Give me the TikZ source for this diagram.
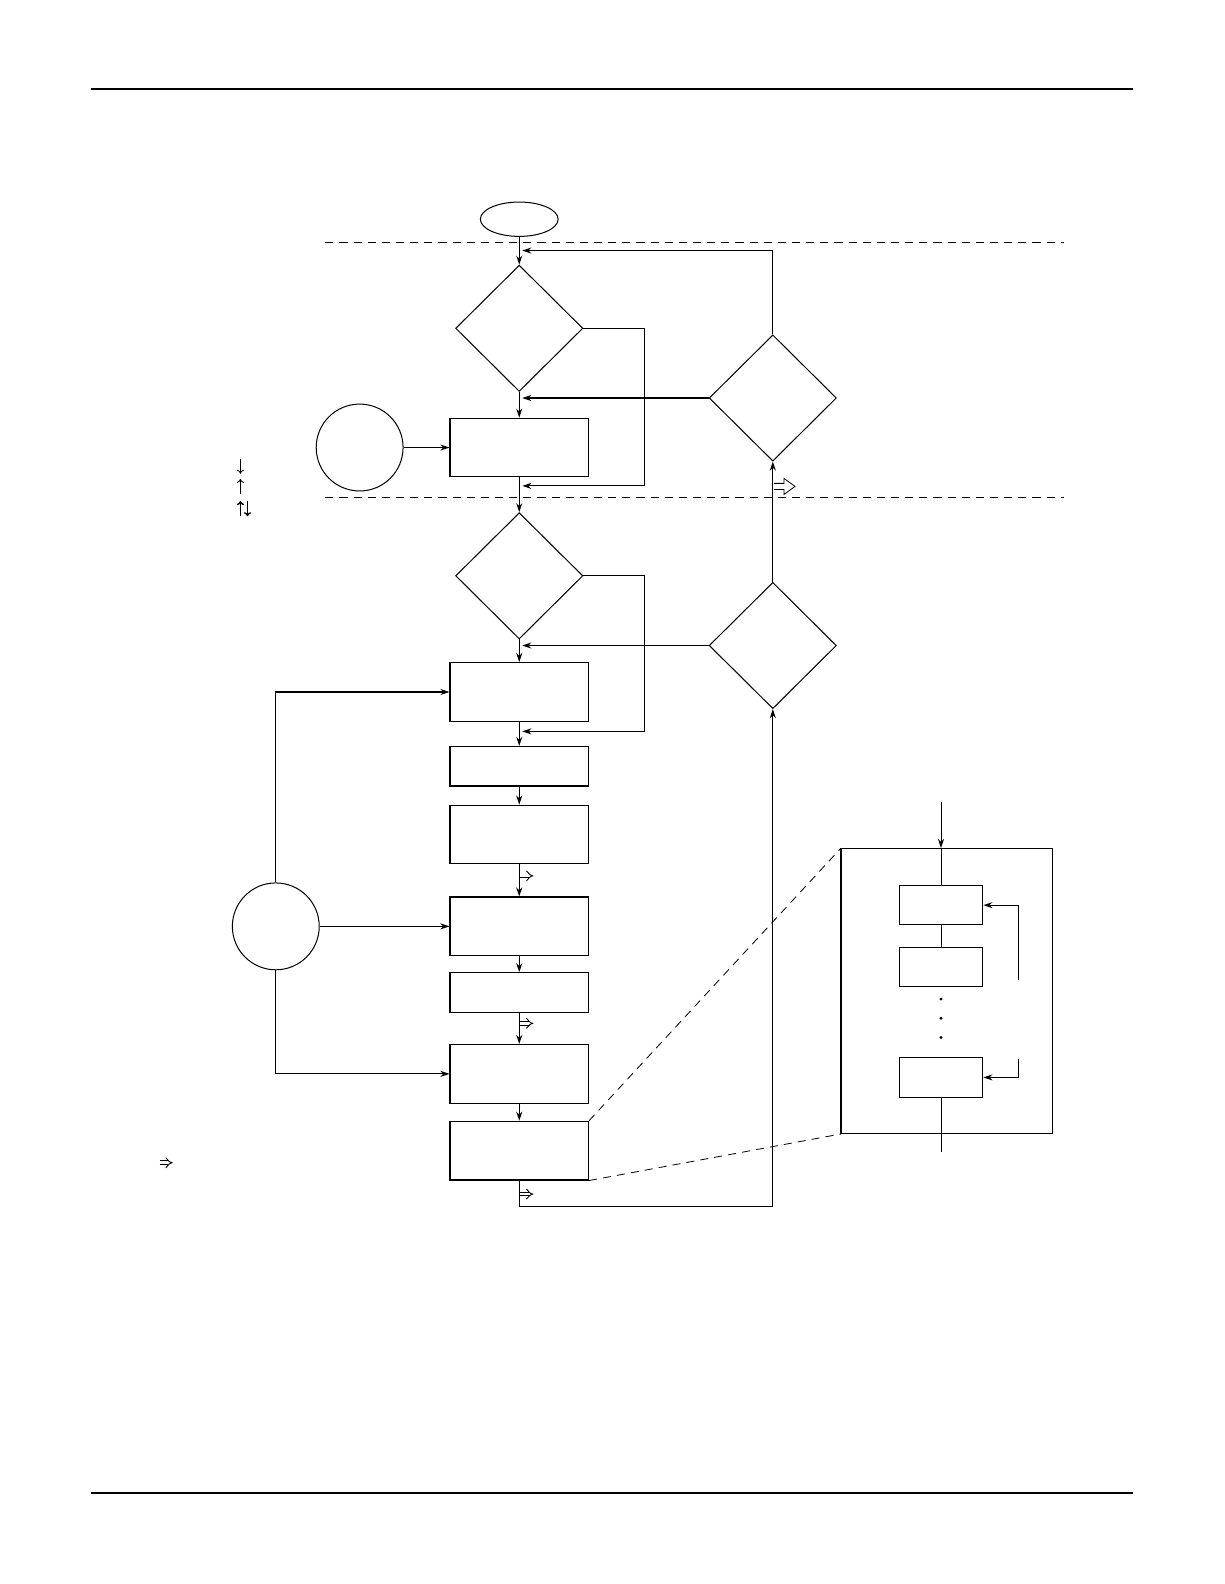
\documentclass[tikz,border=0pt]{standalone}
\usetikzlibrary{shapes.geometric,arrows.meta,calc}
\begin{document}
\begin{tikzpicture}[x=1pt,y=-1pt,
  box/.style={draw, line width=1.2pt, minimum width=137pt, minimum height=58pt, inner sep=0pt},
  sbox/.style={box, minimum height=39pt},
  ibox/.style={draw, line width=0.9pt, minimum width=83pt, minimum height=39pt, inner sep=0pt},
  dia/.style={draw, diamond, line width=1pt, minimum width=126pt, minimum height=125pt, inner sep=0pt},
  circ/.style={draw, circle, line width=1pt, minimum size=86pt, inner sep=0pt},
  arr/.style={-{Stealth[length=9pt,width=6pt]}, line width=1pt},
  ln/.style={line width=1pt},
  dsh/.style={line width=0.8pt, dash pattern=on 8pt off 6pt},
  dbl/.style={double, double distance=2.8pt, line width=0.9pt, -{Implies}},
  larr/.style={line width=0.8pt, -{To[length=4pt,width=7pt]}},
  larrb/.style={line width=1.4pt, -{To[length=4pt,width=7pt]}}
]
\useasboundingbox (0,0) rectangle (1212,1568);
% rules
\draw[line width=1.4pt] (90,88) -- (1122,88);
\draw[line width=1.4pt] (90,1478) -- (1122,1478);
% dashed separators
\draw[dsh] (322,240) -- (1053,240);
\draw[dsh] (322,492) -- (1053,492);

% nodes
\node[draw, ellipse, line width=1pt, minimum width=77pt, minimum height=34pt, inner sep=0pt] (start) at (514,217) {};
\node[dia] (d1) at (514,325) {};
\node[box] (b1) at (514,443) {};
\node[circ] (c1) at (356,443) {};
\node[dia] (d2) at (514,570) {};
\node[box] (b2) at (514,685) {};
\node[sbox] (b3) at (514,758.5) {};
\node[box] (b4) at (514,826) {};
\node[box] (b5) at (514,917) {};
\node[sbox] (b6) at (514,982.5) {};
\node[box] (b7) at (514,1063) {};
\node[box] (b8) at (514,1139) {};
\node[dia] (dr1) at (765,394) {};
\node[dia] (dr2) at (765,639) {};
\node[circ] (c2) at (273,917) {};

% helper coordinates
\coordinate (j1) at (517,248);
\coordinate (k1) at (638,481);
\coordinate (j2) at (517,481);
\coordinate (k2) at (638,724);
\coordinate (j4) at (517,724);
\coordinate (jx) at (517,0);
\coordinate (m1) at (514,1194);
\coordinate (m2) at (765,1194);

% main chain
\draw[arr] (start) -- (d1);
\draw[arr] (d1) -- (b1);
\draw[arr] (c1) -- (b1);
\draw[arr] (b1) -- (d2);
\draw[arr] (d2) -- (b2);
\draw[arr] (b2) -- (b3);
\draw[arr] (b3) -- (b4);
\draw[arr] (b4) -- (b5);
\draw[arr] (b5) -- (b6);
\draw[arr] (b6) -- (b7);
\draw[arr] (b7) -- (b8);

% bypasses
\draw[ln] (d1.east) -| (k1);
\draw[arr] (k1) -- (j2);
\draw[ln] (d2.east) -| (k2);
\draw[arr] (k2) -- (j4);

% right-hand decisions
\draw[arr, line width=1.3pt] (dr1.west) -- (dr1.west -| jx);
\draw[arr] (dr1.north) |- (j1);
\draw[arr] (dr2.west) -- (dr2.west -| jx);
\draw[arr] (dr2) -- (dr1);
\draw[ln] (b8.south) -- (m1) -- (m2);
\draw[arr] (m2) -- (dr2.south);

% circle 2 feeds
\draw[arr] (c2.north) |- (b2.west);
\draw[arr, line width=1.3pt] (c2) -- (b5);
\draw[arr] (c2.south) |- (b7.west);

% hollow arrow
\draw[line width=0.8pt] (766,478.5) -- (776,478.5) -- (776,473.5) -- (787,481.5) -- (776,489.5) -- (776,484.5) -- (766,484.5);

% double arrow symbols
\coordinate (s1a) at (515,867); \coordinate (s1b) at (528,867);
\coordinate (s2a) at (515,1013); \coordinate (s2b) at (528,1013);
\coordinate (s3a) at (515,1182); \coordinate (s3b) at (528,1182);
\coordinate (s4a) at (158,1151); \coordinate (s4b) at (171,1151);
\draw[dbl] (s1a) -- (s1b);
\draw[dbl] (s2a) -- (s2b);
\draw[dbl] (s3a) -- (s3b);
\draw[dbl] (s4a) -- (s4b);

% legend arrows
\coordinate (l1a) at (238,454); \coordinate (l1b) at (238,469);
\coordinate (l2a) at (238,489); \coordinate (l2b) at (238,474);
\coordinate (l3a) at (238,511); \coordinate (l3b) at (238,496);
\coordinate (l4a) at (245,496); \coordinate (l4b) at (245,511);
\draw[larr] (l1a) -- (l1b);
\draw[larr] (l2a) -- (l2b);
\draw[larrb] (l3a) -- (l3b);
\draw[larrb] (l4a) -- (l4b);

% detail box
\node[draw, line width=1pt, minimum width=209pt, minimum height=282pt, inner sep=0pt] (det) at (937.5,981) {};
\draw[line width=1.8pt] (det.north west) -- (det.south west);
\node[ibox] (ib1) at (931.5,896) {};
\node[ibox] (ib2) at (931.5,957) {};
\node[ibox] (ib3) at (931.5,1066.5) {};
\coordinate (din) at (931.5,794);
\coordinate (dout) at (931.5,1140);
\coordinate (f1) at (1008,970);
\coordinate (f2) at (1008,1048);
\draw[arr] (din) -- (ib1 |- det.north);
\draw[ln] (ib1 |- det.north) -- (ib1);
\draw[ln] (ib1) -- (ib2);
\draw[ln] (ib3) -- (dout);
\draw[arr] (f1) |- (ib1.east);
\draw[arr] (f2) |- (ib3.east);
\foreach \yy in {989,1008,1027} \fill (931.5,\yy) circle (1.6pt);

% zoom lines
\draw[dsh] (b8.north east) -- (det.north west);
\draw[dsh] (b8.south east) -- (det.south west);
\end{tikzpicture}
\end{document}
